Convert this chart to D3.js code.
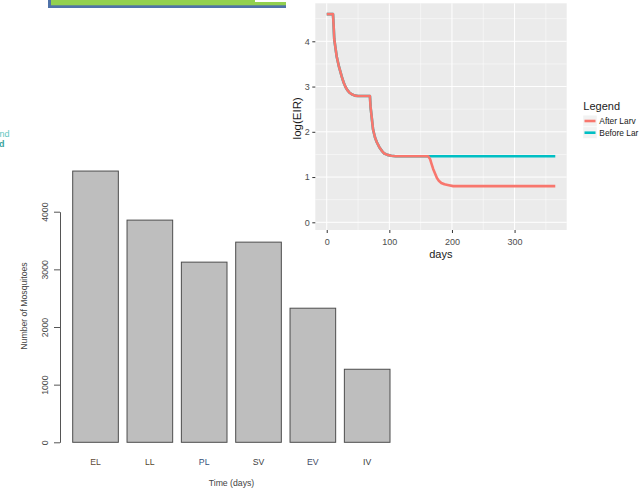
<!DOCTYPE html>
<html>
<head>
<meta charset="utf-8">
<script src="https://cdn.jsdelivr.net/npm/d3@7"></script>
<style>
  html, body { margin: 0; padding: 0; background: #fff; }
  svg { display: block; }
  text { font-family: "Liberation Sans", Arial, Helvetica, sans-serif; }
</style>
</head>
<body>
<svg id="chart" width="639" height="492"></svg>
<script>
// ---------- Bar chart data ----------
const barCategories = ["EL", "LL", "PL", "SV", "EV", "IV"];
const barValues = [4705, 3854, 3125, 3472, 2326, 1267];
const barTicks = [0, 1000, 2000, 3000, 4000];
const barLabelColors = ["#5e4a36", "#55472f", "#34507a", "#3d3d3d", "#3f4b66", "#3a3a3a"];

// ---------- Line chart data (days, log(EIR)) ----------
const beforeDays = [0, 10, 11, 12, 14, 16, 19, 21, 24, 27, 30, 33, 36, 40, 45, 50, 60, 69, 70, 72, 74, 77, 80, 84, 88, 92, 97, 103, 110, 365];
const beforeEIR  = [4.60, 4.60, 4.35, 4.05, 3.85, 3.66, 3.47, 3.37, 3.22, 3.09, 2.99, 2.92, 2.87, 2.83, 2.80, 2.79, 2.79, 2.79, 2.55, 2.30, 2.05, 1.88, 1.77, 1.66, 1.58, 1.52, 1.49, 1.47, 1.46, 1.46];
const afterDays  = [0, 10, 11, 12, 14, 16, 19, 21, 24, 27, 30, 33, 36, 40, 45, 50, 60, 69, 70, 72, 74, 77, 80, 84, 88, 92, 97, 103, 110, 162, 165, 167, 170, 173, 176, 179, 183, 188, 195, 202, 365];
const afterEIR   = [4.60, 4.60, 4.35, 4.05, 3.85, 3.66, 3.47, 3.37, 3.22, 3.09, 2.99, 2.92, 2.87, 2.83, 2.80, 2.79, 2.79, 2.79, 2.55, 2.30, 2.05, 1.88, 1.77, 1.66, 1.58, 1.52, 1.49, 1.47, 1.46, 1.46, 1.40, 1.31, 1.18, 1.08, 0.98, 0.92, 0.87, 0.84, 0.82, 0.80, 0.80];
const lineXTicks = [0, 100, 200, 300];
const lineXMinor = [50, 150, 250, 350];
const lineYTicks = [0, 1, 2, 3, 4];
const lineYMinor = [0.5, 1.5, 2.5, 3.5, 4.5];
const seriesNames = ["After Larv", "Before Lar"];
const seriesColors = ["#F8766D", "#00BFC4"];

const svg = d3.select("#chart");

// ---------- Decorations: top green bar and clipped text on the left ----------
svg.append("rect").attr("x", 48).attr("y", 0).attr("width", 238).attr("height", 8).attr("fill", "#4F72A8");
svg.append("rect").attr("x", 51).attr("y", 0).attr("width", 235).attr("height", 5.3).attr("fill", "#92D050");
svg.append("rect").attr("x", 255).attr("y", 0).attr("width", 31).attr("height", 2).attr("fill", "#ffffff");
svg.append("text").attr("x", 9.5).attr("y", 136.5).attr("text-anchor", "end")
  .attr("font-size", 9).attr("fill", "#62c6bf").text("nd");
svg.append("text").attr("x", 4.5).attr("y", 146.5).attr("text-anchor", "end")
  .attr("font-size", 9).attr("font-weight", "bold").attr("fill", "#3aa39c").text("d");

// ---------- Bar chart ----------
const bx = d3.scaleBand().domain(barCategories).range([72.7, 390]).paddingInner(0.16).paddingOuter(0);
const by = d3.scaleLinear().domain([0, 4000]).range([442.3, 211.7]);
const barG = svg.append("g");

barG.selectAll("rect.bar").data(barCategories).enter().append("rect")
  .attr("class", "bar")
  .attr("x", d => bx(d))
  .attr("width", bx.bandwidth())
  .attr("y", (d, i) => by(barValues[i]))
  .attr("height", (d, i) => by(0) - by(barValues[i]))
  .attr("fill", "#BEBEBE")
  .attr("stroke", "#4d4d4d")
  .attr("stroke-width", 1);

const yAxisBar = barG.append("g").attr("transform", "translate(60,0)")
  .call(d3.axisLeft(by).tickValues(barTicks).tickSize(6).tickSizeOuter(0).tickFormat(d3.format("d")));
yAxisBar.select(".domain").attr("stroke", "#555");
yAxisBar.selectAll(".tick line").attr("stroke", "#555");
yAxisBar.selectAll(".tick text")
  .attr("transform", "rotate(-90)")
  .attr("x", 0).attr("y", -11.7).attr("dy", 0)
  .attr("text-anchor", "middle")
  .attr("font-size", 8.7).attr("fill", "#4a4a4a")
  .attr("font-family", "Liberation Sans, Arial, sans-serif");

barG.selectAll("text.cat").data(barCategories).enter().append("text")
  .attr("class", "cat")
  .attr("x", d => bx(d) + bx.bandwidth() / 2)
  .attr("y", 464.8)
  .attr("text-anchor", "middle")
  .attr("font-size", 8.7)
  .attr("fill", (d, i) => barLabelColors[i])
  .text(d => d);

barG.append("text").attr("x", 231.5).attr("y", 486)
  .attr("text-anchor", "middle").attr("font-size", 8.7).attr("fill", "#444")
  .text("Time (days)");
barG.append("text").attr("transform", "translate(27,306) rotate(-90)")
  .attr("text-anchor", "middle").attr("font-size", 8.7).attr("fill", "#444")
  .text("Number of Mosquitoes");

// ---------- Line chart (ggplot style) ----------
const lx = d3.scaleLinear().domain([-18.25, 383.25]).range([315.3, 566.7]);
const ly = d3.scaleLinear().domain([-0.17, 4.84]).range([230, 3.3]);
const lineG = svg.append("g");

lineG.append("rect").attr("x", lx.range()[0]).attr("y", ly.range()[1])
  .attr("width", lx.range()[1] - lx.range()[0]).attr("height", ly.range()[0] - ly.range()[1])
  .attr("fill", "#EBEBEB");

// minor grid
lineG.selectAll("line.xminor").data(lineXMinor).enter().append("line")
  .attr("x1", d => lx(d)).attr("x2", d => lx(d)).attr("y1", ly.range()[0]).attr("y2", ly.range()[1])
  .attr("stroke", "#fff").attr("stroke-width", 0.5);
lineG.selectAll("line.yminor").data(lineYMinor).enter().append("line")
  .attr("y1", d => ly(d)).attr("y2", d => ly(d)).attr("x1", lx.range()[0]).attr("x2", lx.range()[1])
  .attr("stroke", "#fff").attr("stroke-width", 0.5);
// major grid
lineG.selectAll("line.xmajor").data(lineXTicks).enter().append("line")
  .attr("x1", d => lx(d)).attr("x2", d => lx(d)).attr("y1", ly.range()[0]).attr("y2", ly.range()[1])
  .attr("stroke", "#fff").attr("stroke-width", 1);
lineG.selectAll("line.ymajor").data(lineYTicks).enter().append("line")
  .attr("y1", d => ly(d)).attr("y2", d => ly(d)).attr("x1", lx.range()[0]).attr("x2", lx.range()[1])
  .attr("stroke", "#fff").attr("stroke-width", 1);

const lineGen = d3.line().x(d => lx(d[0])).y(d => ly(d[1]));
const beforeData = beforeDays.map((d, i) => [d, beforeEIR[i]]);
const afterData = afterDays.map((d, i) => [d, afterEIR[i]]);
lineG.append("path").datum(beforeData).attr("d", lineGen)
  .attr("fill", "none").attr("stroke", seriesColors[1]).attr("stroke-width", 2.6)
  .attr("stroke-linejoin", "round");
lineG.append("path").datum(afterData).attr("d", lineGen)
  .attr("fill", "none").attr("stroke", seriesColors[0]).attr("stroke-width", 2.6)
  .attr("stroke-linejoin", "round");

// axes
const lyAxis = lineG.append("g").attr("transform", `translate(${lx.range()[0]},0)`)
  .call(d3.axisLeft(ly).tickValues(lineYTicks).tickSize(3).tickPadding(2.5).tickFormat(d3.format("d")));
lyAxis.select(".domain").remove();
lyAxis.selectAll(".tick line").attr("stroke", "#333");
lyAxis.selectAll(".tick text").attr("font-size", 9).attr("fill", "#4D4D4D")
  .attr("font-family", "Liberation Sans, Arial, sans-serif");

const lxAxis = lineG.append("g").attr("transform", `translate(0,${ly.range()[0]})`)
  .call(d3.axisBottom(lx).tickValues(lineXTicks).tickSize(3).tickPadding(5.3).tickFormat(d3.format("d")));
lxAxis.select(".domain").remove();
lxAxis.selectAll(".tick line").attr("stroke", "#333");
lxAxis.selectAll(".tick text").attr("font-size", 9).attr("fill", "#4D4D4D")
  .attr("font-family", "Liberation Sans, Arial, sans-serif");

lineG.append("text").attr("x", 440.8).attr("y", 258).attr("text-anchor", "middle")
  .attr("font-size", 11).attr("fill", "#1a1a1a").text("days");
lineG.append("text").attr("transform", "translate(301,118.3) rotate(-90)")
  .attr("text-anchor", "middle").attr("font-size", 11.5).attr("fill", "#1a1a1a").text("log(EIR)");

// legend
const legG = lineG.append("g");
legG.append("text").attr("x", 583.3).attr("y", 110).attr("font-size", 11).attr("fill", "#1a1a1a").text("Legend");
seriesNames.forEach((name, i) => {
  const cy = 121 + i * 11.7;
  legG.append("rect").attr("x", 583).attr("y", cy - 5.85).attr("width", 14).attr("height", 11.7)
    .attr("fill", "#F2F2F2").attr("stroke", "#fff").attr("stroke-width", 0.5);
  legG.append("line").attr("x1", 584.5).attr("x2", 595.5).attr("y1", cy).attr("y2", cy)
    .attr("stroke", seriesColors[i]).attr("stroke-width", 2.6);
  legG.append("text").attr("x", 599.3).attr("y", cy + 3).attr("font-size", 8.4).attr("fill", "#1a1a1a").text(name);
});
</script>
</body>
</html>
